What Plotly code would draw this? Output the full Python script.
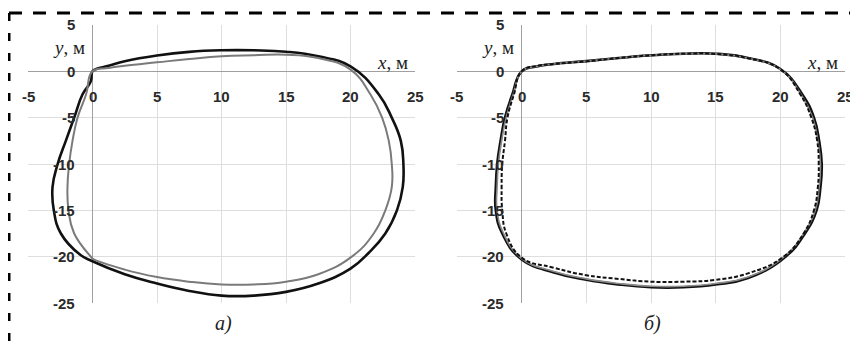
import plotly.graph_objects as go

# ---------------- data ----------------
# panel a) black trajectory
a_black_x = [0, 0.4, 1.25, 2.5, 5, 7.5, 10, 12.5, 15, 17.5, 20, 22.2, 23.2, 23.9, 24.1, 24.05, 23.6, 22.7, 21.4,
             20, 17.5, 15, 12.5, 10, 7.5, 5, 2.5, 0, -0.95, -2.45, -3.0, -3.1, -2.7, -2.07, -1.42, -0.78, -0.13, 0]
a_black_y = [0, 0.3, 0.6, 1.08, 1.7, 2.1, 2.27, 2.27, 2.12, 1.62, 0.54, -2.5, -5, -7.5, -10, -12.5, -15, -17.5, -19.6,
             -21.3, -22.9, -23.8, -24.2, -24.2, -23.7, -22.9, -21.9, -20.5, -19.8, -17.5, -15, -12.5, -10, -7.5, -5, -2.5, -1.08, 0]
# panel a) grey trajectory
a_grey_x = [0, 1.25, 2.5, 5, 7.5, 10, 12.5, 15, 17.5, 20, 21.55, 22.45, 22.97, 23.2, 23.2, 22.7, 21.8, 20.1,
            17.5, 15, 12.5, 10, 7.5, 5, 2.5, 0, -0.13, -1.42, -1.86, -1.94, -1.81, -1.55, -1.16, -0.5, 0]
a_grey_y = [0, 0.36, 0.6, 0.97, 1.33, 1.62, 1.73, 1.8, 1.44, 0.18, -2.5, -5, -7.5, -10, -12.5, -15, -17.5, -20,
            -21.9, -22.7, -23.0, -23.0, -22.7, -22.2, -21.4, -20.2, -20, -17.5, -15, -12.5, -10, -7.5, -5, -2.5, 0]
# panel б) black trajectory
b_black_x = [0, 1.25, 2.5, 5, 7.5, 10, 12.5, 15, 17.5, 20, 21.7, 22.6, 23.0, 23.2, 23.1, 22.8, 21.9, 20.4,
             17.5, 15, 12.5, 10, 7.5, 5, 2.5, 0, -1.5, -2.0, -2.0, -1.89, -1.63, -1.29, -0.72, 0]
b_black_y = [0, 0.55, 0.8, 1.1, 1.44, 1.73, 1.9, 1.9, 1.44, 0.25, -2.5, -5, -7.5, -10, -12.5, -15, -17.5, -20,
             -22.3, -23.0, -23.3, -23.3, -23.0, -22.5, -21.7, -20.3, -17.5, -15, -12.5, -10, -7.5, -5, -2.5, 0]
# panel б) grey trajectory
b_grey_x = [0, 1.25, 2.5, 5, 7.5, 10, 12.5, 15, 17.5, 20, 21.6, 22.5, 22.9, 23.1, 23.0, 22.7, 21.8, 20.3,
            17.5, 15, 12.5, 10, 7.5, 5, 2.5, 0, -1.4, -1.9, -1.9, -1.8, -1.55, -1.2, -0.65, 0]
b_grey_y = [0, 0.55, 0.8, 1.1, 1.44, 1.73, 1.88, 1.88, 1.42, 0.22, -2.5, -5, -7.5, -10, -12.5, -15, -17.5, -20,
            -22.2, -22.9, -23.2, -23.2, -22.9, -22.4, -21.6, -20.2, -17.5, -15, -12.5, -10, -7.5, -5, -2.5, 0]
# panel б) dashed trajectory
b_dash_x = [0, 1.25, 2.5, 5, 7.5, 10, 12.5, 15, 17.5, 20, 21.55, 22.4, 22.85, 22.97, 22.9, 22.6, 21.8, 20.25,
            17.5, 15, 12.5, 10, 7.5, 5, 2.5, 0, -1.19, -1.5, -1.55, -1.5, -1.29, -1.1, -0.6, 0]
b_dash_y = [0, 0.6, 0.8, 1.08, 1.44, 1.73, 1.9, 1.88, 1.42, 0.22, -2.5, -5, -7.5, -10, -12.5, -15, -17.5, -20,
            -21.8, -22.5, -22.7, -22.7, -22.4, -22.0, -21.2, -20.1, -17.5, -15, -12.5, -10, -7.5, -5, -2.5, 0]

x_ticks = [-5, 0, 5, 10, 15, 20, 25]
y_ticks = [5, 0, -5, -10, -15, -20, -25]
x_tick_labels = ["-5", "0", "5", "10", "15", "20", "25"]
y_tick_labels = ["5", "0", "-5", "-10", "-15", "-20", "-25"]
panel_labels = ["а)", "б)"]

# ---------------- figure ----------------
# the page body adds an 8px margin, so the figure is 850x333 and positions are offset by 8px
OFF = 8
W, H = 858 - OFF, 341 - OFF


def fx(px):
    return (px - OFF) / W


def fy(py):
    return 1 - (py - OFF) / H


SM = 1.3
fig = go.Figure()

fig.add_trace(go.Scatter(x=a_black_x, y=a_black_y, mode="lines", xaxis="x", yaxis="y",
                         line=dict(color="#111111", width=2.6, shape="spline", smoothing=SM)))
fig.add_trace(go.Scatter(x=a_grey_x, y=a_grey_y, mode="lines", xaxis="x", yaxis="y",
                         line=dict(color="#7a7a7a", width=2.0, shape="spline", smoothing=SM)))
fig.add_trace(go.Scatter(x=b_black_x, y=b_black_y, mode="lines", xaxis="x2", yaxis="y2",
                         line=dict(color="#111111", width=2.6, shape="spline", smoothing=SM)))
fig.add_trace(go.Scatter(x=b_grey_x, y=b_grey_y, mode="lines", xaxis="x2", yaxis="y2",
                         line=dict(color="#8a8a8a", width=1.6, shape="spline", smoothing=SM)))
fig.add_trace(go.Scatter(x=b_dash_x, y=b_dash_y, mode="lines", xaxis="x2", yaxis="y2",
                         line=dict(color="#111111", width=2.0, dash="4px,2px", shape="spline", smoothing=SM)))

ydom = [fy(303), fy(25)]
axis_common = dict(range=[-5, 25], dtick=5, tick0=0, showgrid=True, gridcolor="#dedede", gridwidth=1,
                   zeroline=True, zerolinecolor="#a0a0a0", zerolinewidth=1.2, showticklabels=False,
                   ticks="", showline=False, fixedrange=True)
yaxis_common = dict(range=[-25, 5], dtick=5, tick0=0, showgrid=True, gridcolor="#dedede", gridwidth=1,
                    zeroline=True, zerolinecolor="#a0a0a0", zerolinewidth=1.2, showticklabels=False,
                    ticks="", showline=False, fixedrange=True)

fig.update_layout(
    width=W, height=H, margin=dict(l=0, r=0, t=0, b=0, autoexpand=False),
    paper_bgcolor="white", plot_bgcolor="white", showlegend=False,
    xaxis=dict(domain=[fx(28), fx(415)], anchor="y", **axis_common),
    yaxis=dict(domain=ydom, anchor="x", **yaxis_common),
    xaxis2=dict(domain=[fx(457), fx(845)], anchor="y2", **axis_common),
    yaxis2=dict(domain=ydom, anchor="x2", **yaxis_common),
)

tick_font = dict(family="Liberation Sans, Arial, sans-serif", size=15, color="#2a2a2a")
serif = "Liberation Serif, Times New Roman, serif"
annotations = []
for xr, yr in [("x", "y"), ("x2", "y2")]:
    for v, t in zip(x_ticks, x_tick_labels):
        annotations.append(dict(x=v, y=-2.77, xref=xr, yref=yr, text="<b>" + t + "</b>", showarrow=False,
                                font=tick_font, xanchor="center", yanchor="middle"))
    for v, t in zip(y_ticks, y_tick_labels):
        annotations.append(dict(x=-1.2, y=v, xref=xr, yref=yr, text="<b>" + t + "</b>", showarrow=False,
                                font=tick_font, xanchor="right", yanchor="middle"))
    annotations.append(dict(x=-0.45, y=2.6, xref=xr, yref=yr, text="<i>y</i>, м", showarrow=False,
                            font=dict(family=serif, size=19, color="#222222"), xanchor="right", yanchor="middle"))
    annotations.append(dict(x=24.6, y=0.97, xref=xr, yref=yr, text="<i>x</i>, м", showarrow=False,
                            font=dict(family=serif, size=19, color="#222222"), xanchor="right", yanchor="middle"))

for xp, t in zip([fx(223), fx(652)], panel_labels):
    annotations.append(dict(x=xp, y=fy(323), xref="paper", yref="paper", text="<i>" + t + "</i>",
                            showarrow=False, font=dict(family=serif, size=20, color="#222222"),
                            xanchor="center", yanchor="middle"))
fig.update_layout(annotations=annotations)

# dashed frame (top and left edges)
fig.add_shape(type="line", xref="paper", yref="paper", x0=fx(9), x1=1.0, y0=fy(13), y1=fy(13),
              line=dict(color="black", width=3, dash="13px,11px"))
fig.add_shape(type="line", xref="paper", yref="paper", x0=fx(9), x1=fx(9), y0=fy(13), y1=0,
              line=dict(color="black", width=3, dash="8px,12px"))

fig.write_html("out.html")
